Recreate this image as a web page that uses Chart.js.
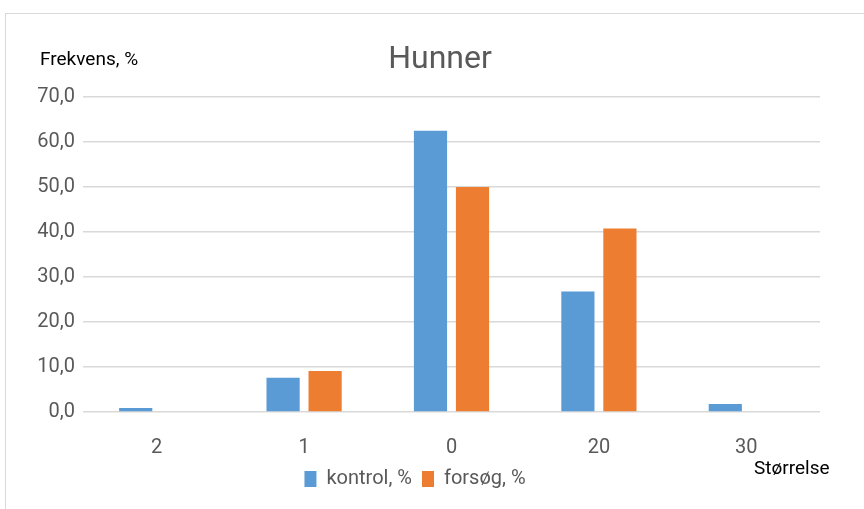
<!DOCTYPE html>
<html>
<head>
<meta charset="utf-8">
<script src="https://cdn.jsdelivr.net/npm/chart.js@4.4.1/dist/chart.umd.min.js"></script>
<style>
  html, body { margin: 0; padding: 0; background: #fff; }
  #wrap { width: 864px; height: 509px; position: relative; }
</style>
</head>
<body>
<div id="wrap"><canvas id="chart" width="864" height="509"></canvas></div>
<script>
// Chart data
const categories = ["2", "1", "0", "20", "30"];
const kontrol = [0.9, 7.6, 62.5, 26.8, 1.8];
const forsog = [0, 9.1, 50.0, 40.8, 0];
const yTicks = [0, 10, 20, 30, 40, 50, 60, 70];

const FONT = "'Roboto', sans-serif";
const GRAY = "#595959";

// Extra texts and border drawn on the canvas
const decorations = {
  id: "decorations",
  beforeDraw(chart) {
    const ctx = chart.ctx;
    ctx.save();
    ctx.strokeStyle = "#d9d9d9";
    ctx.lineWidth = 1;
    ctx.strokeRect(5.5, 13.5, 870, 520);
    ctx.restore();
  },
  afterDraw(chart) {
    const ctx = chart.ctx;
    ctx.save();
    ctx.textBaseline = "middle";
    ctx.fillStyle = GRAY;
    ctx.textAlign = "center";
    ctx.font = "32px " + FONT;
    ctx.fillText("Hunner", 440, 60);
    ctx.fillStyle = "#000";
    ctx.textAlign = "left";
    ctx.font = "19px " + FONT;
    ctx.fillText("Frekvens, %", 40, 60);
    ctx.fillText("Størrelse", 754, 469);
    ctx.restore();
  },
};

new Chart(document.getElementById("chart"), {
  type: "bar",
  data: {
    labels: categories,
    datasets: [
      {
        label: "kontrol, %",
        data: kontrol,
        backgroundColor: "#5B9BD5",
        barPercentage: 0.79,
        categoryPercentage: 0.57,
      },
      {
        label: "forsøg, %",
        data: forsog,
        backgroundColor: "#ED7D31",
        barPercentage: 0.79,
        categoryPercentage: 0.57,
      },
    ],
  },
  options: {
    responsive: false,
    animation: false,
    layout: { padding: { top: 97, left: 10, right: 44, bottom: 10 } },
    plugins: {
      title: { display: false },
      tooltip: { enabled: false },
      legend: {
        position: "bottom",
        labels: {
          color: GRAY,
          font: { family: FONT, size: 20 },
          boxWidth: 12,
          boxHeight: 16,
          padding: 10,
        },
      },
    },
    scales: {
      x: {
        grid: { display: false },
        border: { display: false },
        ticks: {
          color: GRAY,
          font: { family: FONT, size: 20 },
          padding: 16,
        },
        afterFit(scale) {
          scale.height = 47;
        },
      },
      y: {
        min: 0,
        max: 70,
        afterBuildTicks(scale) {
          scale.ticks = yTicks.map((v) => ({ value: v }));
        },
        grid: { color: "#d9d9d9", lineWidth: 1.5, drawTicks: false },
        border: { display: false },
        ticks: {
          color: GRAY,
          font: { family: FONT, size: 20 },
          padding: 8,
          callback: (v) => v.toFixed(1).replace(".", ","),
        },
        afterFit(scale) {
          scale.width = 73;
        },
      },
    },
  },
  plugins: [decorations],
});
</script>
</body>
</html>
